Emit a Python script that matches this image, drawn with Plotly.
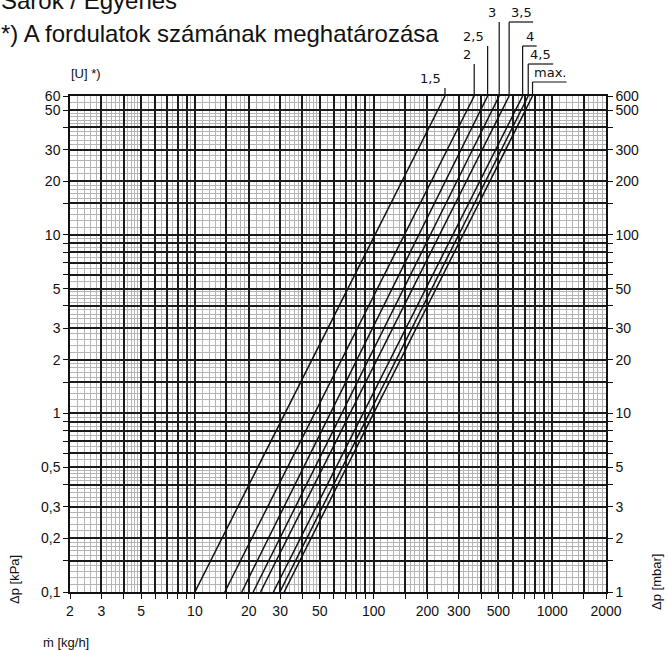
import math
import plotly.graph_objects as go

# Presets (number of turns) and their straight lines on log-log paper
presets = ["1,5", "2", "2,5", "3", "3,5", "4", "4,5", "max."]
flow_at_dp_min = [10, 14.7, 18.3, 21.2, 23.3, 27.5, 29.9, 31.6]   # kg/h at 0,1 kPa
flow_at_dp_max = [251, 366, 435, 505, 574, 683, 734, 776]          # kg/h at 60 kPa
dp_ends = [0.1, 60]                                                # kPa

x_ticks = [2, 3, 5, 10, 20, 30, 50, 100, 200, 300, 500, 1000, 2000]
y_ticks = [0.1, 0.2, 0.3, 0.5, 1, 2, 3, 5, 10, 20, 30, 50, 60]
y_ticktext = ["0,1", "0,2", "0,3", "0,5", "1", "2", "3", "5", "10", "20", "30", "50", "60"]
y2_ticks = [1, 2, 3, 5, 10, 20, 30, 50, 100, 200, 300, 500, 600]

# leader lines for the preset labels (pixels above plot top, direction, underline length)
label_rise = [8, 32, 50, 74, 74, 50, 32, 14]
label_side = [-1, -1, -1, -1, 1, 1, 1, 1]
label_len = [29, 14, 28, 14, 24, 14, 25, 34]

W, H = 669, 650
ML, MR, MT, MB = 70, 63, 96, 58
PW, PH = W - ML - MR, H - MT - MB
X_RANGE = [math.log10(2), math.log10(2000)]
Y_RANGE = [-1, math.log10(60)]

FONT = "Liberation Sans, Arial, sans-serif"
LABEL_FONT = "DejaVu Sans, Verdana, sans-serif"


def log_paper(lo, hi, steps):
    """Grid values of a log paper between lo and hi."""
    vals = []
    e = math.floor(math.log10(lo))
    while 10 ** e <= hi:
        for m in steps:
            v = round(m * 10 ** e, 6)
            if lo - 1e-9 <= v <= hi + 1e-9:
                vals.append(v)
        e += 1
    return vals


MAJOR = [1, 1.5, 2, 3, 4, 5, 6, 7, 8, 9]
MINOR = [1.1, 1.2, 1.3, 1.4, 1.6, 1.7, 1.8, 1.9,
         2.2, 2.4, 2.6, 2.8, 3.2, 3.4, 3.6, 3.8, 4.2, 4.4, 4.6, 4.8,
         5.5, 6.5, 7.5, 8.5, 9.5]


def tick_texts(vals, labelled, texts=None):
    texts = texts or [str(v) for v in labelled]
    lookup = {round(v, 6): t for v, t in zip(labelled, texts)}
    return [lookup.get(round(v, 6), "") for v in vals]


x_major = log_paper(2, 2000, MAJOR)
x_minor = log_paper(2, 2000, MINOR)
y_major = log_paper(0.1, 60, MAJOR)
y_minor = log_paper(0.1, 60, MINOR)
y2_major = log_paper(1, 600, MAJOR)

fig = go.Figure()

for name, m0, m1 in zip(presets, flow_at_dp_min, flow_at_dp_max):
    fig.add_trace(go.Scatter(
        x=[m0, m1], y=dp_ends, name=name, mode="lines",
        line=dict(color="#111111", width=1.5),
        showlegend=False,
        hovertemplate=name + "<br>%{x} kg/h<br>%{y} kPa<extra></extra>",
    ))

# helper trace so the mbar axis is drawn
fig.add_trace(go.Scatter(
    x=[flow_at_dp_min[0]], y=[dp_ends[0] * 10], yaxis="y2", mode="markers",
    marker=dict(opacity=0), showlegend=False, hoverinfo="skip",
))

# preset labels with leader lines
for i, name in enumerate(presets):
    xm = flow_at_dp_max[i]
    rise, side, ln = label_rise[i], label_side[i], label_len[i]
    fig.add_shape(type="line", xref="x", yref="paper",
                  xsizemode="pixel", ysizemode="pixel", xanchor=xm, yanchor=1,
                  x0=0, x1=0, y0=0, y1=rise, line=dict(color="#111111", width=1.2))
    fig.add_shape(type="line", xref="x", yref="paper",
                  xsizemode="pixel", ysizemode="pixel", xanchor=xm, yanchor=1,
                  x0=0, x1=side * ln, y0=rise, y1=rise, line=dict(color="#111111", width=1.2))
    fig.add_annotation(text=name, xref="x", yref="paper",
                       x=math.log10(xm), y=1, xshift=side * ln / 2, yshift=rise,
                       xanchor="center", yanchor="bottom", showarrow=False,
                       font=dict(family=LABEL_FONT, size=13, color="#111111"))


def px_text(text, px, py, size=14, angle=0, anchor="center"):
    fig.add_annotation(text=text, xref="paper", yref="paper",
                       x=(px - ML) / PW, y=(H - MB - py) / PH,
                       xanchor=anchor, yanchor="middle", textangle=angle,
                       showarrow=False, font=dict(family=FONT, size=size, color="#111111"))


px_text("Sarok / Egyenes", -1, 1, size=24, anchor="left")
px_text("*) A fordulatok számának meghatározása", -1, 33, size=24, anchor="left")
px_text("[U] *)", 86, 74, size=13)
px_text("Δp [kPa]", 14, 580, size=13, angle=-90)
px_text("Δp [mbar]", 656, 582, size=13, angle=-90)
px_text("ṁ [kg/h]", 66, 642, size=13)

axis_common = dict(
    type="log", showline=True, linecolor="#111111", linewidth=1.5,
    ticks="outside", ticklen=5, tickcolor="#111111", tickwidth=1.2,
    tickmode="array", zeroline=False,
    tickfont=dict(family=FONT, size=14, color="#111111"),
)

fig.update_layout(
    width=W, height=H,
    margin=dict(l=ML, r=MR, t=MT, b=MB),
    paper_bgcolor="white", plot_bgcolor="white",
    font=dict(family=FONT, color="#111111"),
    xaxis=dict(
        **axis_common, range=X_RANGE, mirror=True,
        tickvals=x_major, ticktext=tick_texts(x_major, x_ticks),
        showgrid=True, gridcolor="#1a1a1a", gridwidth=1.6,
        minor=dict(tickmode="array", tickvals=x_minor, showgrid=True,
                   gridcolor="#b4b4b4", gridwidth=1, ticks=""),
    ),
    yaxis=dict(
        **axis_common, range=Y_RANGE, mirror=False,
        tickvals=y_major, ticktext=tick_texts(y_major, y_ticks, y_ticktext),
        showgrid=True, gridcolor="#1a1a1a", gridwidth=1.6,
        minor=dict(tickmode="array", tickvals=y_minor, showgrid=True,
                   gridcolor="#b4b4b4", gridwidth=1, ticks=""),
    ),
    yaxis2=dict(
        **axis_common, range=[0, math.log10(600)], overlaying="y", side="right",
        tickvals=y2_major, ticktext=tick_texts(y2_major, y2_ticks),
        showgrid=False,
    ),
)

# page body has a default 8px margin; drop it so the chart sits at the window corner
fig.write_html("out.html", config={"displayModeBar": False},
               post_script="document.body.style.margin = '0';")
